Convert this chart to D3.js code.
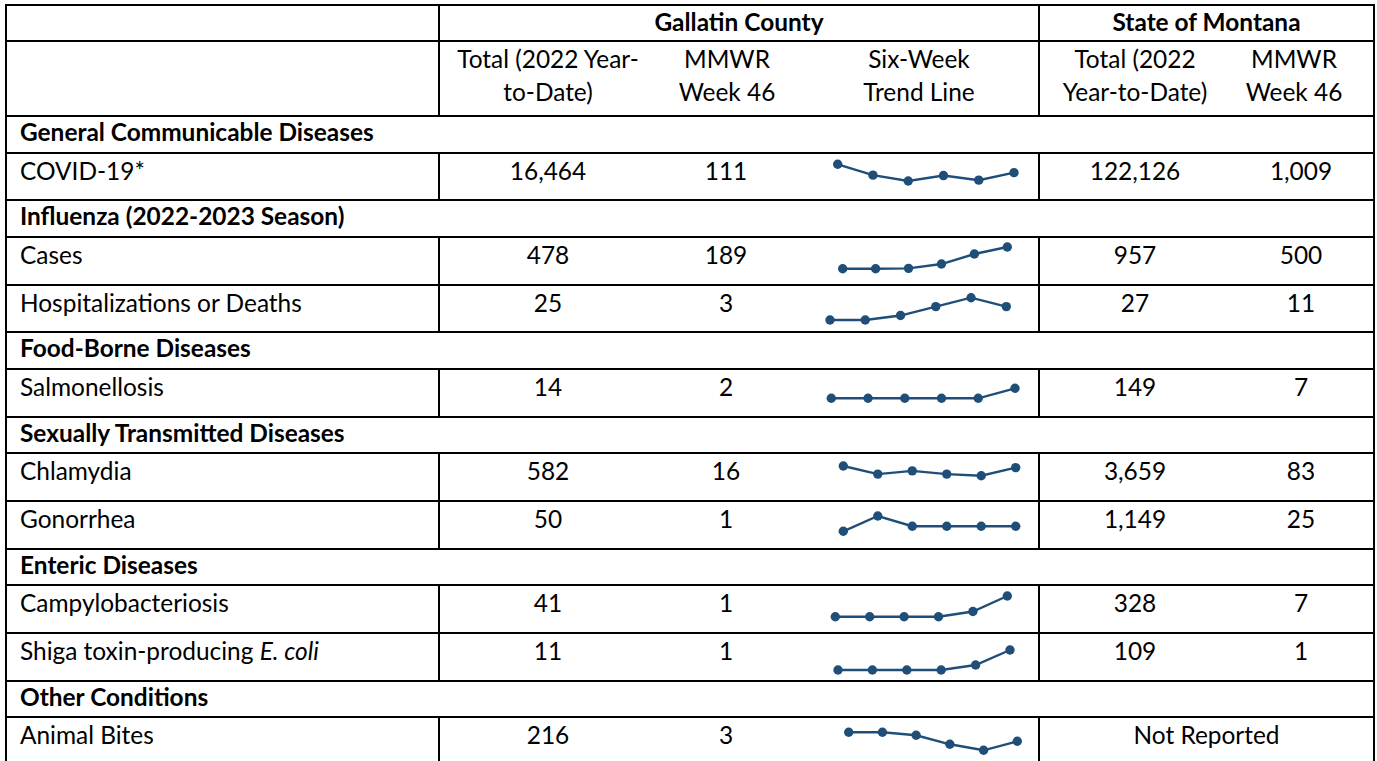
<!DOCTYPE html>
<html>
<head>
<meta charset="utf-8">
<script src="https://cdn.jsdelivr.net/npm/d3@7"></script>
<style>
  html, body { margin: 0; padding: 0; background: #fff; }
  svg { display: block; }
  text { font-family: Lato, "Open Sans", sans-serif; fill: #000; }
</style>
</head>
<body>
<svg id="chart" width="1377" height="761"></svg>
<script>
// ---------------- DATA ----------------
const groupHeaders = ["Gallatin County", "State of Montana"];
const columnHeaders = [
  ["Total (2022 Year-", "to-Date)"],
  ["MMWR", "Week 46"],
  ["Six-Week", "Trend Line"],
  ["Total (2022", "Year-to-Date)"],
  ["MMWR", "Week 46"]
];
const sections = [
  "General Communicable Diseases",
  "Influenza (2022-2023 Season)",
  "Food-Borne Diseases",
  "Sexually Transmitted Diseases",
  "Enteric Diseases",
  "Other Conditions"
];
const diseases = [
  "COVID-19*", "Cases", "Hospitalizations or Deaths", "Salmonellosis",
  "Chlamydia", "Gonorrhea", "Campylobacteriosis", "Shiga toxin-producing E. coli",
  "Animal Bites"
];
const diseaseSection = [0, 1, 1, 2, 3, 3, 4, 4, 5];
const gallatinTotal = ["16,464", "478", "25", "14", "582", "50", "41", "11", "216"];
const gallatinWeek  = ["111", "189", "3", "2", "16", "1", "1", "1", "3"];
const montanaTotal  = ["122,126", "957", "27", "149", "3,659", "1,149", "328", "109", null];
const montanaWeek   = ["1,009", "500", "11", "7", "83", "25", "7", "1", null];
const notReportedLabel = "Not Reported";
const trendCovid   = [131, 105, 91, 104, 93, 111];
const trendFluCase = [3, 3, 6, 43, 129, 189];
const trendFluHosp = [0, 0, 1, 3, 5, 3];
const trendSalm    = [0, 0, 0, 0, 0, 2];
const trendChlam   = [17, 12, 14, 12, 11, 16];
const trendGono    = [0, 3, 1, 1, 1, 1];
const trendCampy   = [0, 0, 0, 0, 1, 4];
const trendStec    = [0, 0, 0, 0, 1, 4];
const trendBites   = [6, 6, 5, 2, 0, 3];
const trends = [trendCovid, trendFluCase, trendFluHosp, trendSalm, trendChlam,
                trendGono, trendCampy, trendStec, trendBites];

// ---------------- LAYOUT ----------------
const W = 1377, H = 761;
const xLeft = 6, xRight = 1374, xLabelEnd = 439, xGroupSplit = 1039;
const labelX = 20;
const colCenters = [548, 726, 919, 1135, 1301];
const headerCenters = [548, 727, 919, 1135, 1294];
const yTop = 5, h1 = 36, h2 = 75, sectionH = 36.5, dataH = 47.75;
const lineColor = "#000", lineW = 2;
const sparkColor = "#1f4e79";
// per-row sparkline box: [x0, x1, top offset, bottom offset] within row
const sparkBoxes = [
  [837.7, 1014, 11.3, 28],
  [842.7, 1007.3, 10, 31.7],
  [830, 1006.3, 12.7, 35],
  [831.3, 1015, 19.3, 29.3],
  [843.3, 1015.7, 13, 22.7],
  [843.3, 1015.7, 15, 30.3],
  [835.3, 1007.3, 11, 31.7],
  [838, 1010, 17, 37],
  [848.7, 1017.3, 15.3, 33.3]
];

const svg = d3.select("#chart");

// calibrate font size so that body text matches reference width
const probe = svg.append("text").attr("font-size", 20).text("Hospitalizations or Deaths");
const probeW = probe.node().getComputedTextLength();
probe.remove();
const FS = 20 * 282 / probeW;

// build row list
const rows = [];
let y = yTop + h1 + h2;
let lastSection = -1;
diseases.forEach((d, i) => {
  if (diseaseSection[i] !== lastSection) {
    lastSection = diseaseSection[i];
    rows.push({ kind: "section", label: sections[lastSection], y0: y, y1: y + sectionH });
    y += sectionH;
  }
  rows.push({ kind: "data", idx: i, y0: y, y1: y + dataH });
  y += dataH;
});
rows.forEach(r => { r.y0 = Math.round(r.y0); r.y1 = Math.round(r.y1); });

const gLines = svg.append("g");
const gText = svg.append("g").attr("font-size", FS);
const gSpark = svg.append("g");

function hline(yy) {
  gLines.append("line").attr("x1", xLeft - 1).attr("x2", xRight + 1)
    .attr("y1", yy).attr("y2", yy).attr("stroke", lineColor).attr("stroke-width", lineW);
}
function vline(xx, ya, yb) {
  gLines.append("line").attr("x1", xx).attr("x2", xx)
    .attr("y1", ya).attr("y2", yb).attr("stroke", lineColor).attr("stroke-width", lineW);
}

// header rows
const hy1 = yTop + h1, hy2 = yTop + h1 + h2;
hline(yTop); hline(hy1); hline(hy2);
vline(xLabelEnd, yTop, hy2);
vline(xGroupSplit, yTop, hy2);
gText.append("text").attr("x", (xLabelEnd + xGroupSplit) / 2).attr("y", yTop + 26)
  .attr("text-anchor", "middle").attr("font-weight", "bold").text(groupHeaders[0]);
gText.append("text").attr("x", (xGroupSplit + xRight) / 2).attr("y", yTop + 26)
  .attr("text-anchor", "middle").attr("font-weight", "bold").text(groupHeaders[1]);
columnHeaders.forEach((lines, i) => {
  lines.forEach((ln, j) => {
    gText.append("text").attr("x", headerCenters[i]).attr("y", hy1 + 27 + j * 33)
      .attr("text-anchor", "middle").text(ln);
  });
});

// body rows
rows.forEach(r => {
  hline(r.y1);
  if (r.kind === "section") {
    gText.append("text").attr("x", labelX).attr("y", r.y0 + 25)
      .attr("font-weight", "bold").text(r.label);
    return;
  }
  vline(xLabelEnd, r.y0, r.y1);
  vline(xGroupSplit, r.y0, r.y1);
  const i = r.idx;
  const by = r.y0 + 27;
  const lbl = gText.append("text").attr("x", labelX).attr("y", by);
  const name = diseases[i];
  const m = name.match(/^(.*?)(E\. coli)$/);
  if (m) {
    lbl.append("tspan").text(m[1]);
    lbl.append("tspan").attr("font-style", "italic").text(m[2]);
  } else {
    lbl.text(name);
  }
  gText.append("text").attr("x", colCenters[0]).attr("y", by).attr("text-anchor", "middle").text(gallatinTotal[i]);
  gText.append("text").attr("x", colCenters[1]).attr("y", by).attr("text-anchor", "middle").text(gallatinWeek[i]);
  if (montanaTotal[i] === null) {
    gText.append("text").attr("x", (xGroupSplit + xRight) / 2).attr("y", by)
      .attr("text-anchor", "middle").text(notReportedLabel);
  } else {
    gText.append("text").attr("x", colCenters[3]).attr("y", by).attr("text-anchor", "middle").text(montanaTotal[i]);
    gText.append("text").attr("x", colCenters[4]).attr("y", by).attr("text-anchor", "middle").text(montanaWeek[i]);
  }
  // sparkline
  const vals = trends[i];
  const box = sparkBoxes[i];
  const sx = d3.scaleLinear().domain([0, vals.length - 1]).range([box[0], box[1]]);
  const sy = d3.scaleLinear().domain(d3.extent(vals)).range([r.y0 + box[3], r.y0 + box[2]]);
  const line = d3.line().x((d, k) => sx(k)).y(d => sy(d));
  gSpark.append("path").attr("d", line(vals)).attr("fill", "none")
    .attr("stroke", sparkColor).attr("stroke-width", 2.4);
  gSpark.selectAll(null).data(vals).enter().append("circle")
    .attr("cx", (d, k) => sx(k)).attr("cy", d => sy(d)).attr("r", 4.7)
    .attr("fill", sparkColor);
});
// outer verticals
const yBottom = rows[rows.length - 1].y1;
vline(xLeft, yTop - 1, yBottom + 1);
vline(xRight, yTop - 1, yBottom + 1);
</script>
</body>
</html>
